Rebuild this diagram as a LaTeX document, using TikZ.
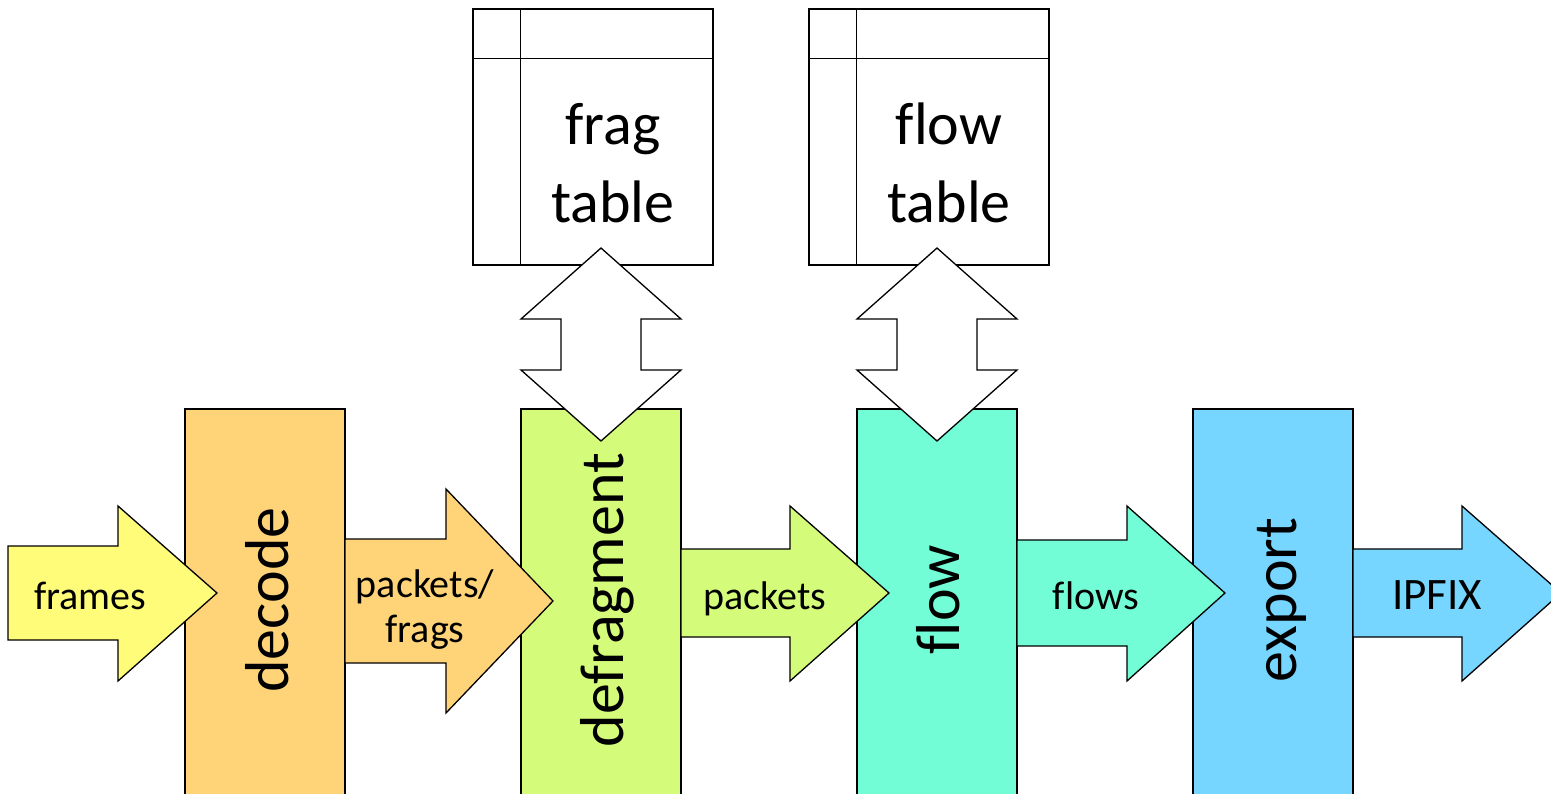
\documentclass[tikz,border=0pt]{standalone}
\usepackage{fontspec}
\setmainfont{Carlito}[Ligatures=NoCommon]
\definecolor{banana}{HTML}{FFFC79}
\definecolor{cantaloupe}{HTML}{FFD479}
\definecolor{honeydew}{HTML}{D4FB79}
\definecolor{seafoam}{HTML}{73FDD6}
\definecolor{sky}{HTML}{76D6FF}
\tikzset{
  stagebox/.style={draw=black, line width=1.3pt, rectangle, minimum width=160pt, minimum height=400pt, inner sep=0pt},
  stagelbl/.style={rotate=90, anchor=base, inner sep=0pt, font=\fontsize{62}{62}\selectfont},
  tablebox/.style={draw=black, fill=white, line width=1.3pt, rectangle, minimum width=240pt, minimum height=256pt, inner sep=0pt},
  tablelbl/.style={align=center, inner sep=0pt, font=\fontsize{60}{78}\selectfont},
  blockarrow/.style={draw=black, line width=1.3pt, line join=miter},
  duplex/.style={draw=black, fill=white, line width=1.3pt, line join=miter},
  flowlbl/.style={anchor=base, inner sep=0pt, font=\fontsize{40}{42}\selectfont},
}
\begin{document}
\begin{tikzpicture}[x=1pt, y=-1pt]
\path[use as bounding box] (0,0) rectangle (1551,793);
\clip (0,0) rectangle (1551,793);
% stage boxes
\node[stagebox, fill=cantaloupe] (decode) at (265,609) {};
\node[stagebox, fill=honeydew]   (defrag) at (601,609) {};
\node[stagebox, fill=seafoam]    (flow)   at (937,609) {};
\node[stagebox, fill=sky]        (export) at (1273,609) {};
% tables
\node[tablebox] (fragtable) at (593,137) {};
\draw[line width=1.3pt] ([yshift=-50pt]fragtable.north west) -- ([yshift=-50pt]fragtable.north east);
\draw[line width=1.3pt] ([xshift=48pt]fragtable.north west) -- ([xshift=48pt]fragtable.south west);
\node[tablebox] (flowtable) at (929,137) {};
\draw[line width=1.3pt] ([yshift=-50pt]flowtable.north west) -- ([yshift=-50pt]flowtable.north east);
\draw[line width=1.3pt] ([xshift=48pt]flowtable.north west) -- ([xshift=48pt]flowtable.south west);
% block arrows
\draw[blockarrow, fill=banana] (8,546) -- (118,546) -- (118,506) -- (217,593) -- (118,681) -- (118,640) -- (8,640) -- cycle;
\draw[blockarrow, fill=cantaloupe] (345,539) -- (446,539) -- (446,489) -- (553,601) -- (446,713) -- (446,663) -- (345,663) -- cycle;
\draw[blockarrow, fill=honeydew] (681,549) -- (790,549) -- (790,506) -- (889,593) -- (790,681) -- (790,637) -- (681,637) -- cycle;
\draw[blockarrow, fill=seafoam] (1017,540) -- (1127,540) -- (1127,506) -- (1225,593) -- (1127,681) -- (1127,646) -- (1017,646) -- cycle;
\draw[blockarrow, fill=sky] (1353,549) -- (1462,549) -- (1462,506) -- (1561,593) -- (1462,681) -- (1462,637) -- (1353,637) -- cycle;
% double arrows between tables and stages
\draw[duplex] (601,248) -- (681,319) -- (641,319) -- (641,370) -- (681,370) -- (601,441) -- (521,370) -- (561,370) -- (561,319) -- (521,319) -- cycle;
\draw[duplex] (937,248) -- (1017,319) -- (977,319) -- (977,370) -- (1017,370) -- (937,441) -- (857,370) -- (897,370) -- (897,319) -- (857,319) -- cycle;
% labels
\node[tablelbl] (fragtxt) at (613,163) {frag\\table};
\node[tablelbl] (flowtxt) at (949,163) {flow\\table};
\node[stagelbl] (decodetxt) at (288,600) {decode};
\node[stagelbl] (defragtxt) at (623,600) {defragment};
\node[stagelbl] (flowtxt2) at (959,600) {flow};
\node[stagelbl] (exporttxt) at (1296,600) {export};
\node[flowlbl] (framestxt) at (90,609) {frames};
\node[align=center, inner sep=0pt, font=\fontsize{40}{45}\selectfont] (pfragtxt) at (425,610) {packets/\\frags};
\node[flowlbl] (packetstxt) at (765,609) {packets};
\node[flowlbl] (flowstxt) at (1096,609) {flows};
\node[flowlbl, font=\fontsize{45}{47}\selectfont] (ipfixtxt) at (1437,609) {IPFIX};
\end{tikzpicture}
\end{document}
